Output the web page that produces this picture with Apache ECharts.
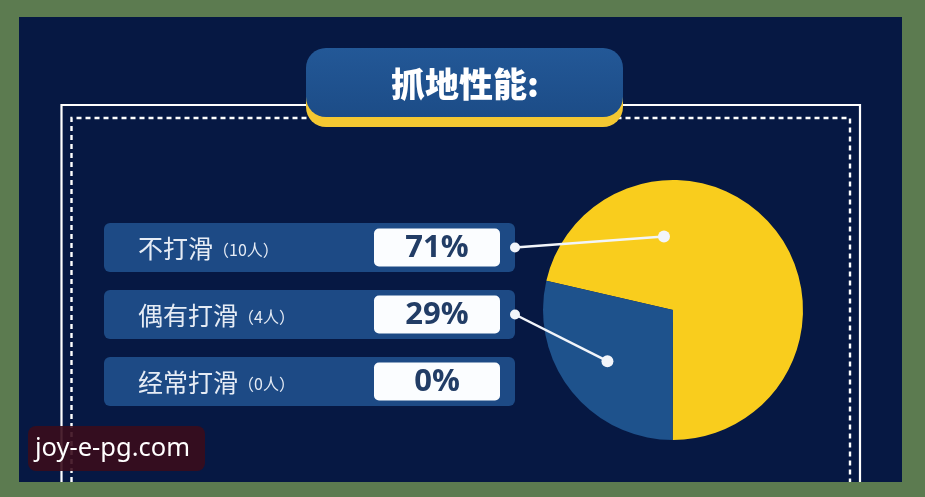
<!DOCTYPE html>
<html>
<head>
<meta charset="utf-8">
<script src="https://cdn.jsdelivr.net/npm/echarts/dist/echarts.min.js"></script>
<style>
html,body{margin:0;padding:0;background:#5c7b50;}
#c{width:925px;height:497px;}
</style>
</head>
<body>
<div id="c"></div>
<script>
// ---- data ----
const chartTitle = '抓地性能:';
const categories = ['不打滑', '偶有打滑', '经常打滑'];
const counts = [10, 4, 0];
const unit = '人';
const sliceColors = ['#f9cd1d', '#1e528c', '#3a6fb0'];
const watermark = 'joy-e-pg.com';

// ---- derived ----
const total = counts.reduce((a, b) => a + b, 0);
const percents = counts.map(v => Math.round(v / total * 100) + '%');

// ---- layout styles ----
const pieCenter = [673, 310];
const pieRadius = 130;
const startAngle = 167;
const rowX = 104, rowW = 411, rowH = 49, rowY0 = 223, rowGap = 67;
const boxX = 374, boxW = 126, boxH = 38;
const anchorAngle = [97, 218];   // where each leader line touches the slice (deg)
const anchorRatio = [0.57, 0.64];
const CJK = '"Noto Sans CJK SC", "Noto Sans", sans-serif';

const chart = echarts.init(document.getElementById('c'), null, {renderer: 'canvas'});

const g = [];
// panel
g.push({type: 'rect', z: 0, shape: {x: 19, y: 17, width: 883, height: 465},
  style: {fill: '#061843'}});
// borders
g.push({type: 'polyline', z: 1, shape: {points: [[61.5, 482], [61.5, 105], [860, 105], [860, 482]]},
  style: {stroke: '#ffffff', lineWidth: 2.2, fill: null}});
g.push({type: 'polyline', z: 1, shape: {points: [[71.5, 482], [71.5, 118], [850, 118], [850, 482]]},
  style: {stroke: '#ffffff', lineWidth: 2.4, lineDash: [5, 4], fill: null}});
// title
g.push({type: 'rect', z: 3, shape: {x: 306, y: 57, width: 317, height: 70, r: 20},
  style: {fill: '#f4c832'}});
g.push({type: 'rect', z: 3, shape: {x: 306, y: 48, width: 317, height: 69, r: 20},
  style: {fill: new echarts.graphic.LinearGradient(0, 0, 0, 1, [
    {offset: 0, color: '#235897'}, {offset: 1, color: '#1c4c87'}])}});
g.push({type: 'text', z: 4, x: 465, y: 84, style: {text: chartTitle, fill: '#ffffff',
  font: '900 34px ' + CJK, align: 'center', verticalAlign: 'middle'}});

// rows
categories.forEach((c, i) => {
  const y = rowY0 + i * rowGap;
  const cy = y + rowH / 2;
  g.push({type: 'rect', z: 3, shape: {x: rowX, y: y, width: rowW, height: rowH, r: 6},
    style: {fill: '#1d4a85'}});
  g.push({type: 'rect', z: 4, shape: {x: boxX, y: cy - boxH / 2, width: boxW, height: boxH, r: 5},
    style: {fill: '#fbfdff'}});
  g.push({type: 'text', z: 5, x: 138, y: cy + 1, style: {
    text: '{a|' + c + '}{b|（' + counts[i] + unit + '）}',
    verticalAlign: 'middle', align: 'left',
    rich: {
      a: {fill: '#e6ecf5', fontSize: 25, fontFamily: CJK, verticalAlign: 'middle'},
      b: {fill: '#e6ecf5', fontSize: 16, fontFamily: CJK, verticalAlign: 'middle', padding: [3, 0, 0, 0]}
    }}});
  g.push({type: 'text', z: 5, x: boxX + boxW / 2, y: cy + 1, style: {
    text: percents[i], fill: '#223d66', font: 'bold 31px "Open Sans", "Noto Sans", sans-serif',
    align: 'center', verticalAlign: 'middle'}});
});

// leader lines from rows into slices
counts.forEach((v, i) => {
  if (v <= 0 || anchorAngle[i] === undefined) return;
  const p0 = [rowX + rowW, rowY0 + i * rowGap + rowH / 2];
  const a = anchorAngle[i] * Math.PI / 180;
  const rr = pieRadius * anchorRatio[i];
  const p1 = [pieCenter[0] + rr * Math.cos(a), pieCenter[1] - rr * Math.sin(a)];
  g.push({type: 'line', z: 10, shape: {x1: p0[0], y1: p0[1], x2: p1[0], y2: p1[1]},
    style: {stroke: '#f2f5fa', lineWidth: 2.5}});
  g.push({type: 'circle', z: 11, shape: {cx: p0[0], cy: p0[1], r: 5}, style: {fill: '#f2f5fa'}});
  g.push({type: 'circle', z: 11, shape: {cx: p1[0], cy: p1[1], r: 6}, style: {fill: '#f2f5fa'}});
});

// watermark
g.push({type: 'rect', z: 20, shape: {x: 28, y: 426, width: 177, height: 45, r: 8},
  style: {fill: 'rgba(58,12,28,0.9)'}});
g.push({type: 'text', z: 21, x: 35, y: 449, style: {text: watermark, fill: '#ffffff',
  font: '25.5px "Noto Sans", "Open Sans", sans-serif', align: 'left', verticalAlign: 'middle'}});

chart.setOption({
  backgroundColor: '#5c7b50',
  animation: false,
  graphic: {elements: g},
  series: [{
    type: 'pie',
    z: 5,
    center: pieCenter,
    radius: pieRadius,
    startAngle: startAngle,
    clockwise: true,
    silent: true,
    label: {show: false},
    labelLine: {show: false},
    data: categories.map((c, i) => ({name: c, value: counts[i], itemStyle: {color: sliceColors[i]}}))
  }]
});
</script>
</body>
</html>
